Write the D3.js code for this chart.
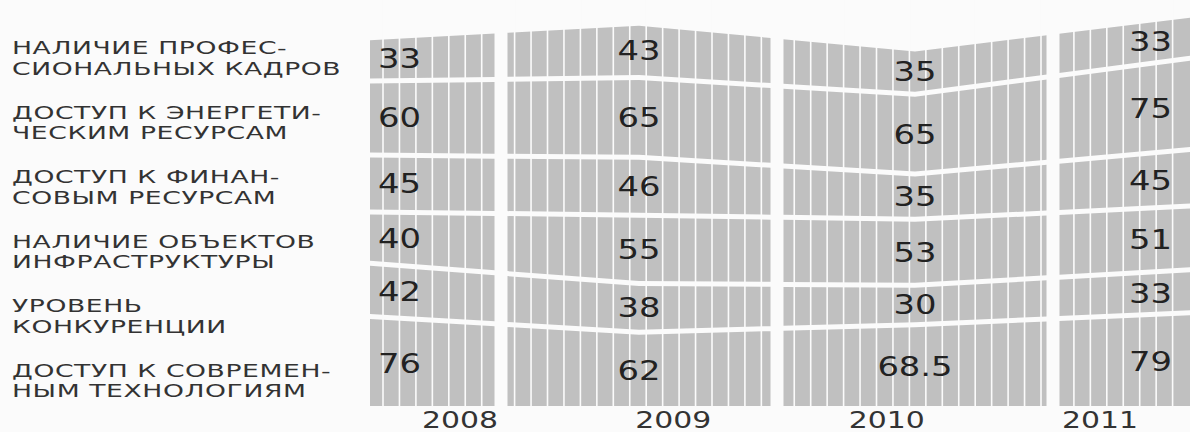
<!DOCTYPE html>
<html><head><meta charset="utf-8">
<script src="https://cdn.jsdelivr.net/npm/d3@7"></script>
<style>
html,body{margin:0;padding:0;background:#fbfbfb;}
svg{display:block;}
text{font-family:"DejaVu Sans",sans-serif;}
</style>
</head><body>
<svg id="chart" width="1190" height="432"></svg>
<script>
// ---- data ----
const categories = [
  "НАЛИЧИЕ ПРОФЕС-\nСИОНАЛЬНЫХ КАДРОВ",
  "ДОСТУП К ЭНЕРГЕТИ-\nЧЕСКИМ РЕСУРСАМ",
  "ДОСТУП К ФИНАН-\nСОВЫМ РЕСУРСАМ",
  "НАЛИЧИЕ ОБЪЕКТОВ\nИНФРАСТРУКТУРЫ",
  "УРОВЕНЬ\nКОНКУРЕНЦИИ",
  "ДОСТУП К СОВРЕМЕН-\nНЫМ ТЕХНОЛОГИЯМ"
];
const years = [2008, 2009, 2010, 2011];
const values2008 = [33, 60, 45, 40, 42, 76];
const values2009 = [43, 65, 46, 55, 38, 62];
const values2010 = [35, 65, 35, 53, 30, 68.5];
const values2011 = [33, 75, 45, 51, 33, 79];
const seriesByYear = [values2008, values2009, values2010, values2011];

// ---- layout ----
const W = 1190, H = 432;
const svg = d3.select("#chart");
const bg = "#fbfbfb", fillGray = "#c0c0c0";
const gap = 5;
const keys = categories.map((c, i) => "k" + i);
const table = years.map((yr, j) => {
  const o = {year: yr};
  keys.forEach((k, i) => o[k] = seriesByYear[j][i]);
  return o;
});
// bottom layer = last category
const stack = d3.stack().keys(keys.slice().reverse());
const layers = stack(table);

const x = d3.scaleLinear().domain([2008, 2011]).range([363, 1191]);
const y = d3.scaleLinear().domain([0, 320]).range([406, 406 - 320 * 1.15]);
const xYearLabel = d3.scaleLinear().domain([2008, 2011]).range([460, 1100]);
const rowY = d3.scalePoint().domain(categories).range([57.5, 380]);

// panels
const panels = years.map((yr, i) => {
  const left = i === 0 ? x(yr) + 7 : (x(years[i - 1]) + x(yr)) / 2 + 6.5;
  const right = i === years.length - 1 ? W : (x(yr) + x(years[i + 1])) / 2 - 6.5;
  return {year: yr, left, right};
});

const defs = svg.append("defs");
panels.forEach((p, i) => {
  defs.append("clipPath").attr("id", "clip" + i)
    .append("rect").attr("x", p.left).attr("y", 0)
    .attr("width", p.right - p.left).attr("height", H);
});

const area = (li) => d3.area()
  .x(d => x(d.data.year))
  .y0(d => y(d[0]) - li * gap)
  .y1(d => y(d[1]) - li * gap)
  .curve(d3.curveLinear);

panels.forEach((p, pi) => {
  const g = svg.append("g").attr("clip-path", `url(#clip${pi})`);
  layers.forEach((L, li) => {
    g.append("path").attr("d", area(li)(L)).attr("fill", fillGray);
  });
  // vertical stripes
  const stripes = d3.range(383, W, 16.45).filter(s => s > p.left + 1 && s < p.right - 1);
  g.selectAll("line.s").data(stripes).join("line")
    .attr("x1", d => d).attr("x2", d => d)
    .attr("y1", 0).attr("y2", 410)
    .attr("stroke", bg).attr("stroke-width", 1.6);
});

// middle of layer li at horizontal position px (linear between year anchors)
function layerMid(li, px) {
  const t = Math.max(2008, Math.min(2011, x.invert(px)));
  const j = Math.min(years.length - 2, Math.floor(t - 2008));
  const f = t - 2008 - j;
  const L = layers[li];
  const m0 = (y(L[j][0]) + y(L[j][1])) / 2;
  const m1 = (y(L[j + 1][0]) + y(L[j + 1][1])) / 2;
  return m0 + (m1 - m0) * f - li * gap;
}

// value labels
const valFs = 26, sx = 1.3;
layers.forEach((L, li) => {
  const catIdx = categories.length - 1 - li;
  L.forEach((d, j) => {
    const p = panels[j];
    const txt = String(seriesByYear[j][catIdx]);
    let anchor = "middle", px = x(d.data.year);
    if (j === 0) { anchor = "start"; px = p.left + 8; }
    if (j === years.length - 1) { anchor = "end"; px = p.right - 18; }
    const t = svg.append("text")
      .attr("text-anchor", anchor)
      .attr("font-size", valFs)
      .attr("fill", "#222")
      .text(txt);
    const w = t.node().getComputedTextLength() * sx;
    const cx = anchor === "start" ? px + w / 2 : anchor === "end" ? px - w / 2 : px;
    const mid = layerMid(li, cx);
    t.attr("transform", `translate(${px},${mid + valFs * 0.365}) scale(${sx},1)`);
  });
});

// category labels
const catFs = 18.5;
categories.forEach(c => {
  const lines = c.split("\n");
  const cy = rowY(c);
  lines.forEach((ln, k) => {
    const ly = cy + (k - (lines.length - 1) / 2) * 20.5 + catFs * 0.365;
    svg.append("text")
      .attr("transform", `translate(12,${ly}) scale(1.44,1)`)
      .attr("font-size", catFs)
      .attr("letter-spacing", 0.4)
      .attr("fill", "#333")
      .text(ln);
  });
});

// year labels
years.forEach(yr => {
  svg.append("text")
    .attr("transform", `translate(${xYearLabel(yr)},428) scale(${sx},1)`)
    .attr("text-anchor", "middle")
    .attr("font-size", 23)
    .attr("fill", "#333")
    .text(yr);
});
</script>
</body></html>
